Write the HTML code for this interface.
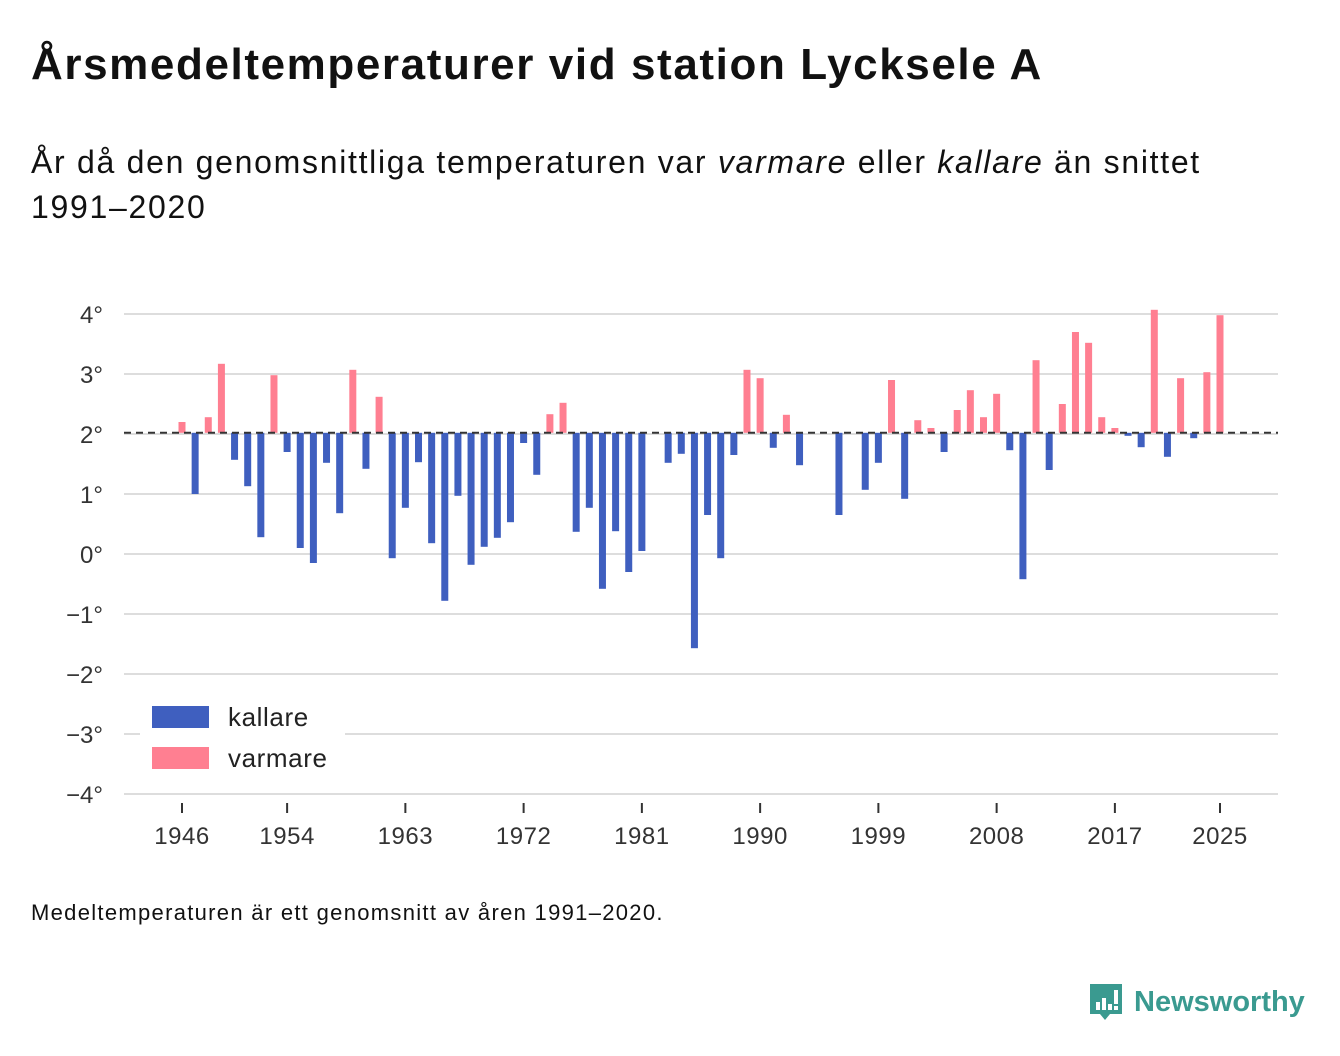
<!DOCTYPE html>
<html><head><meta charset="utf-8"><style>
body{margin:0;width:1340px;height:1056px;background:#fff;font-family:"Liberation Sans",sans-serif;color:#111;position:relative;overflow:hidden}
h1{position:absolute;left:31px;top:40px;margin:0;font-size:44px;font-weight:bold;letter-spacing:1.6px;white-space:nowrap}
.sub{position:absolute;left:31px;top:140px;font-size:32px;line-height:45px;letter-spacing:1.7px;white-space:nowrap}
.note{position:absolute;left:31px;top:900px;font-size:22px;letter-spacing:1.3px}
.logo{position:absolute;left:1088px;top:982px;display:flex;align-items:center;color:#3a9a90;font-size:29px;font-weight:bold}
</style></head><body>
<h1>Årsmedeltemperaturer vid station Lycksele A</h1>
<div class="sub">År då den genomsnittliga temperaturen var <i>varmare</i> eller <i>kallare</i> än snittet<br>1991–2020</div>
<svg id="chart" width="1340" height="1056" style="position:absolute;left:0;top:0"></svg>
<div class="note">Medeltemperaturen är ett genomsnitt av åren 1991–2020.</div>
<div class="logo"><svg width="36" height="40" viewBox="0 0 36 40"><path d="M2 2h32v30H22l-5 6-5-6H2z" fill="#3a9a90"/><rect x="8" y="20" width="4" height="8" fill="#fff"/><rect x="14" y="16" width="4" height="12" fill="#fff"/><rect x="20" y="22" width="4" height="6" fill="#fff"/><rect x="26" y="8" width="4" height="14" fill="#fff"/><rect x="26" y="24" width="4" height="4" fill="#fff"/></svg><span style="margin-left:10px">Newsworthy</span></div>
<script>
const years=[1946,1947,1948,1949,1950,1951,1952,1953,1954,1955,1956,1957,1958,1959,1960,1961,1962,1963,1964,1965,1966,1967,1968,1969,1970,1971,1972,1973,1974,1975,1976,1977,1978,1979,1980,1981,1982,1983,1984,1985,1986,1987,1988,1989,1990,1991,1992,1993,1994,1995,1996,1997,1998,1999,2000,2001,2002,2003,2004,2005,2006,2007,2008,2009,2010,2011,2012,2013,2014,2015,2016,2017,2018,2019,2020,2021,2022,2023,2024,2025];
const temps=[2.2,1.0,2.28,3.17,1.57,1.13,0.28,2.98,1.7,0.1,-0.15,1.52,0.68,3.07,1.42,2.62,-0.07,0.77,1.53,0.18,-0.78,0.97,-0.18,0.12,0.27,0.53,1.85,1.32,2.33,2.52,0.37,0.77,-0.58,0.38,-0.3,0.05,2.02,1.52,1.67,-1.57,0.65,-0.07,1.65,3.07,2.93,1.77,2.32,1.48,2.02,2.02,0.65,2.02,1.07,1.52,2.9,0.92,2.23,2.1,1.7,2.4,2.73,2.28,2.67,1.73,-0.42,3.23,1.4,2.5,3.7,3.52,2.28,2.1,1.97,1.78,4.07,1.62,2.93,1.93,3.03,3.98];
const baseline=2.02;
const yTicks=[4,3,2,1,0,-1,-2,-3,-4];
const yTickLabels=["4°","3°","2°","1°","0°","−1°","−2°","−3°","−4°"];
const xTicks=[1946,1954,1963,1972,1981,1990,1999,2008,2017,2025];
const svg=document.getElementById('chart');const NS='http://www.w3.org/2000/svg';
const y=v=>554-v*60;const x=yr=>182+(yr-1946)*(1038/79);
function mk(t,a,p){const e=document.createElementNS(NS,t);for(const k in a)e.setAttribute(k,a[k]);(p||svg).appendChild(e);return e;}
yTicks.forEach((v,i)=>{
 const g=mk('line',{x1:124,x2:1278,y1:y(v),y2:y(v),stroke:'#ddd','stroke-width':2});
 
 
 const t=mk('text',{x:103,y:y(v)+9,'text-anchor':'end','font-size':24,fill:'#333'});t.textContent=yTickLabels[i];
 
 
});
xTicks.forEach(yr=>{
 const l=mk('line',{x1:x(yr),x2:x(yr),y1:803,y2:813,stroke:'#333','stroke-width':2});
 
 
 const t=mk('text',{x:x(yr),y:844,'text-anchor':'middle','font-size':24,fill:'#333','letter-spacing':0.5});t.textContent=yr;
 
 
});
years.forEach((yr,i)=>{
 const v=temps[i];const warm=v>=baseline;
 const top=Math.min(y(v),y(baseline)),h=Math.abs(y(v)-y(baseline));
 const r=mk('rect',{x:x(yr)-3.5,y:top,width:7,height:h,fill:warm?'#ff7f91':'#3f5fbf'});
 
 
});
const bl=mk('line',{x1:124,x2:1278,y1:y(baseline),y2:y(baseline),stroke:'#333','stroke-width':2,'stroke-dasharray':'7,5'});


const lb=mk('rect',{x:140,y:698,width:205,height:80,fill:'#fff'});


[['kallare','#3f5fbf',706],['varmare','#ff7f91',747]].forEach(([n,c,yy])=>{
 const r=mk('rect',{x:152,y:yy,width:57,height:22,fill:c});
 
 
 const t=mk('text',{x:228,y:yy+20,'font-size':26,fill:'#222','letter-spacing':0.6});t.textContent=n;
 
 
});
</script>
</body></html>
